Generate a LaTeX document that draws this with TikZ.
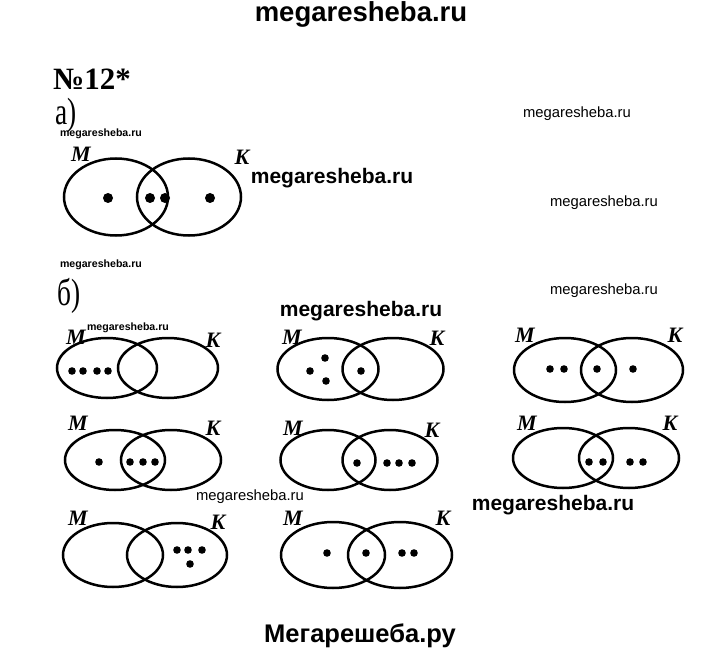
\documentclass[tikz,border=0pt]{standalone}
\usepackage{fontspec}
\setmainfont{Liberation Serif}
\setsansfont{Liberation Sans}
\usetikzlibrary{positioning}
% two overlapping sets: left x, right x, common y, radii
\newcommand{\setsMK}[5]{%
    \draw[ring] (#1,#3) ellipse [x radius=#4pt, y radius=#5pt];
    \draw[ring] (#2,#3) ellipse [x radius=#4pt, y radius=#5pt];}

\begin{document}
\begin{tikzpicture}[x=1pt, y=-1pt,
    ring/.style={line width=2.5pt},
    setname/.style={inner sep=0pt, font=\fontsize{22}{22}\selectfont\bfseries\itshape},
    wmbig/.style={inner sep=0pt, font=\fontsize{27.5}{27.5}\selectfont\sffamily\bfseries},
    wmmid/.style={inner sep=0pt, font=\fontsize{21}{21}\selectfont\sffamily\bfseries},
    wmsmall/.style={inner sep=0pt, font=\fontsize{14.8}{14.8}\selectfont\sffamily},
    wmtiny/.style={inner sep=0pt, font=\fontsize{10.6}{10.6}\selectfont\sffamily\bfseries},
    part/.style={inner sep=0pt, anchor=base west, font=\fontsize{38}{38}\selectfont}]
    \useasboundingbox (0,0) rectangle (720,655);

    % Headings
    \node[part, font=\fontsize{31}{31}\selectfont\bfseries] (num) at (53,90) {№12*};
    \node[part] (pa) at (55,125) {\scalebox{0.72}[1]{а)}};
    \node[part] (pb) at (57,305) {\scalebox{0.72}[1]{б)}};

    % Part a
    \setsMK{116}{189}{197}{52}{38.5}
    \node[setname] (Ma) at (81,154) {M};
    \node[setname] (Ka) at (242,157) {K};
    \foreach \px in {108,150,165,210} \fill (\px,198) circle [radius=5pt];

    % Part b, row 1
    \setsMK{107}{168}{368}{50}{30}
    \node[setname] (M1) at (76,337) {M};
    \node[setname] (K1) at (213,340) {K};
    \foreach \px in {72,83,97,108} \fill (\px,371) circle [radius=3.8pt];

    \setsMK{328}{393}{369}{50.5}{31}
    \node[setname] (M2) at (292,337) {M};
    \node[setname] (K2) at (437,338) {K};
    \foreach \px/\py in {310/371,325/358,326/381,361/371} \fill (\px,\py) circle [radius=3.8pt];

    \setsMK{565}{632}{370}{51}{32}
    \node[setname] (M3) at (525,335) {M};
    \node[setname] (K3) at (675,335) {K};
    \foreach \px in {550,564,597,633} \fill (\px,369) circle [radius=3.8pt];

    % Part b, row 2
    \setsMK{115}{171}{460}{50}{30}
    \node[setname] (M4) at (78,423) {M};
    \node[setname] (K4) at (213,428) {K};
    \foreach \px in {99,130,143,155} \fill (\px,462) circle [radius=3.8pt];

    \setsMK{328}{390}{460}{47.5}{30}
    \node[setname] (M5) at (293,428) {M};
    \node[setname] (K5) at (432,430) {K};
    \foreach \px in {357,387,399,412} \fill (\px,463) circle [radius=3.8pt];

    \setsMK{563}{629}{458}{50}{30}
    \node[setname] (M6) at (527,423) {M};
    \node[setname] (K6) at (670,423) {K};
    \foreach \px in {589,603,630,643} \fill (\px,462) circle [radius=3.8pt];

    % Part b, row 3
    \setsMK{113}{177}{555}{50}{32}
    \node[setname] (M7) at (78,518) {M};
    \node[setname] (K7) at (218,522) {K};
    \foreach \px/\py in {177/550,188/550,202/550,190/564} \fill (\px,\py) circle [radius=3.8pt];

    \setsMK{333}{400}{555}{52}{33}
    \node[setname] (M8) at (293,518) {M};
    \node[setname] (K8) at (443,518) {K};
    \foreach \px in {327,366,402,414} \fill (\px,553) circle [radius=3.8pt];

    % Watermarks
    \node[wmbig] (wmtop) at (361,14) {megaresheba.ru};
    \node[wmbig, font=\fontsize{25.5}{25.5}\selectfont\sffamily\bfseries] (wmbot) at (360,636) {Мегарешеба.ру};
    \node[wmmid] (wm1) at (332,178) {megaresheba.ru};
    \node[wmmid] (wm2) at (361,311) {megaresheba.ru};
    \node[wmmid] (wm3) at (553,505) {megaresheba.ru};
    \node[wmsmall] (wm4) at (577,114) {megaresheba.ru};
    \node[wmsmall] (wm5) at (604,203) {megaresheba.ru};
    \node[wmsmall] (wm6) at (604,291) {megaresheba.ru};
    \node[wmsmall] (wm7) at (250,497) {megaresheba.ru};
    \node[wmtiny] (wm8) at (101,134) {megaresheba.ru};
    \node[wmtiny] (wm9) at (101,265) {megaresheba.ru};
    \node[wmtiny] (wm10) at (128,328) {megaresheba.ru};
\end{tikzpicture}
\end{document}
